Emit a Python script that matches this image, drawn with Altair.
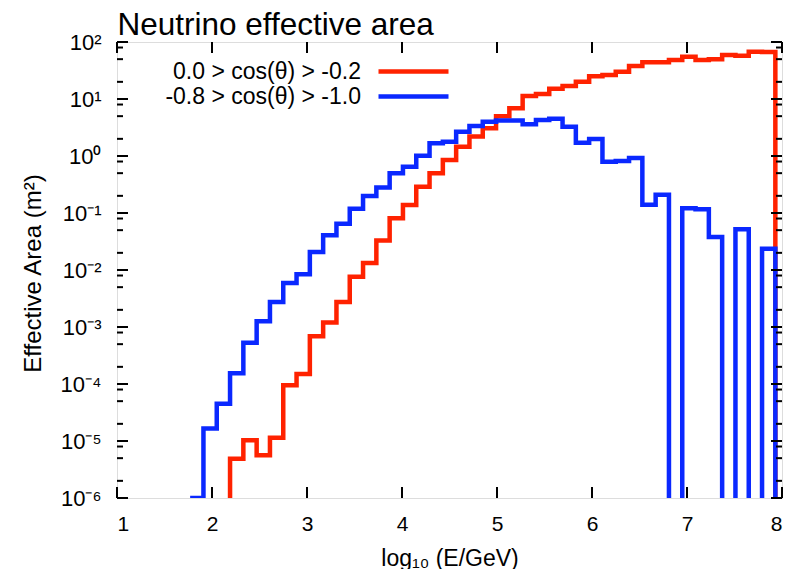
import altair as alt
import pandas as pd

FONT = "Liberation Sans"
RED_COLOR = "#ff2200"
BLUE_COLOR = "#0a28ff"

TITLE = "Neutrino effective area"
X_TITLE = "log\u2081\u2080 (E/GeV)"
Y_TITLE = "Effective Area (m\u00b2)"
SERIES_RED = "0.0 > cos(\u03b8) > -0.2"
SERIES_BLUE = "-0.8 > cos(\u03b8) > -1.0"

# left edge of each histogram step, log10(E/GeV)
BIN_X = [1.77, 1.91, 2.05, 2.19, 2.33, 2.47, 2.61, 2.75, 2.89, 3.03, 3.17,
         3.31, 3.45, 3.59, 3.73, 3.87, 4.01, 4.15, 4.29, 4.43, 4.57, 4.71,
         4.85, 4.99, 5.13, 5.27, 5.41, 5.55, 5.69, 5.83, 5.97, 6.11, 6.25,
         6.39, 6.53, 6.67, 6.81, 6.95, 7.09, 7.23, 7.37, 7.51, 7.65, 7.79,
         7.93]

EMPTY = 1e-9  # empty bin (below the axis range)

RED_VALUES = [EMPTY, EMPTY, EMPTY, 4.9e-6, 1.03e-5, 5.6e-6, 1.14e-5, 9.5e-5,
              1.5e-4, 6.9e-4, 1.2e-3, 2.75e-3, 7.6e-3, 0.0133, 0.033, 0.081,
              0.138, 0.29, 0.50, 0.85, 1.46, 2.19, 3.06, 5.0, 6.85, 11.3,
              12.2, 15.2, 16.9, 20.1, 25.0, 26.3, 30.2, 38.0, 44.0, 44.0,
              48.3, 55.0, 48.3, 49.7, 59.0, 57.6, 67.7, 66.8, EMPTY]

BLUE_VALUES = [1e-6, 1.65e-5, 4.5e-5, 1.55e-4, 5.3e-4, 1.26e-3, 2.75e-3,
               5.9e-3, 8.4e-3, 0.0207, 0.0406, 0.065, 0.119, 0.199, 0.28,
               0.50, 0.65, 1.01, 1.67, 1.78, 2.67, 3.36, 4.0, 4.2, 4.2, 3.6,
               4.3, 4.5, 3.27, 1.71, 1.98, 0.79, 0.82, 0.92, 0.14, 0.21,
               EMPTY, 0.121, 0.116, 0.038, EMPTY, 0.052, EMPTY, 0.0237, EMPTY]

X_TICKS = [1, 2, 3, 4, 5, 6, 7, 8]
Y_MAJOR = [1e-6, 1e-5, 1e-4, 1e-3, 1e-2, 1e-1, 1e0, 1e1, 1e2]
Y_TICK_LABELS = ["10\u207b\u2076", "10\u207b\u2075", "10\u207b\u2074",
                 "10\u207b\u00b3", "10\u207b\u00b2", "10\u207b\u00b9",
                 "10\u2070", "10\u00b9", "10\u00b2"]
Y_MINOR = [m * d for d in Y_MAJOR[:-1] for m in (2, 5, 8)]

W, H = 665, 456

df = pd.DataFrame({
    "x": BIN_X + BIN_X,
    "y": RED_VALUES + BLUE_VALUES,
    "series": [SERIES_RED] * len(BIN_X) + [SERIES_BLUE] * len(BIN_X),
})
xt_df = pd.DataFrame({"v": [float(v) for v in X_TICKS]})
ymaj_df = pd.DataFrame({"v": Y_MAJOR})
ymin_df = pd.DataFrame({"v": Y_MINOR})

# label expression built from the tick label list
expr = "''"
for v, lab in reversed(list(zip(Y_MAJOR, Y_TICK_LABELS))):
    expr = f"datum.value < {v * 3:.3g} ? '{lab}' : ({expr})"

xscale = alt.Scale(domain=[1, 8], nice=False, zero=False)
yscale = alt.Scale(type="log", domain=[1e-6, 1e2], nice=False)

color = alt.Color(
    "series:N",
    scale=alt.Scale(domain=[SERIES_RED, SERIES_BLUE], range=[RED_COLOR, BLUE_COLOR]),
    legend=alt.Legend(
        title=None, orient="none", legendX=285, legendY=18,
        symbolType="M-7,0H7", symbolSize=100, symbolStrokeWidth=4.5,
        labelFontSize=23, labelFont=FONT, labelColor="black",
        labelAlign="right", labelOffset={"expr": "-64"}, labelLimit=0,
        rowPadding=1, padding=0,
    ),
)

main_x = alt.X("x:Q", scale=xscale, axis=alt.Axis(
    orient="bottom", values=X_TICKS, ticks=False, domain=False, grid=False,
    labelFontSize=21, labelFont=FONT, labelColor="black", labelPadding=15,
    title=X_TITLE, titleFontSize=23, titleFont=FONT, titleFontWeight="normal",
    titleColor="black", titleY=67, titleBaseline="alphabetic"))
main_y = alt.Y("y:Q", scale=yscale, axis=alt.Axis(
    orient="left", values=Y_MAJOR, labelExpr=expr, ticks=False, domain=False,
    grid=False, labelFontSize=22, labelFont=FONT, labelColor="black",
    labelPadding=16, title=Y_TITLE, titleFontSize=24, titleFont=FONT,
    titleFontWeight="normal", titleColor="black", titleX=-77, titleY=231,
    titleAngle=270, titleAlign="center", titleBaseline="alphabetic"))

line_style = dict(interpolate="step-after", clip=True, strokeWidth=4.5,
                  strokeJoin="miter")

red = alt.Chart(df).transform_filter(
    alt.datum.series == SERIES_RED
).mark_line(**line_style).encode(x=main_x, y=main_y, color=color)

blue = alt.Chart(df).transform_filter(
    alt.datum.series == SERIES_BLUE
).mark_line(**line_style).encode(
    x=alt.X("x:Q", scale=xscale, axis=None),
    y=alt.Y("y:Q", scale=yscale, axis=None),
    color=color)

tick_style = dict(stroke="#000000", strokeWidth=2, opacity=1)

# inward-pointing tick marks on all four sides of the frame
top_title_axis = alt.Axis(
    orient="top", values=X_TICKS, labels=False, ticks=False, domain=False,
    grid=False, title=TITLE, titleFontSize=31.5, titleFont=FONT,
    titleFontWeight="normal", titleColor="black", titleX=0, titleY=-7.5,
    titleAlign="left", titleAngle=0, titleBaseline="alphabetic")

x_top = alt.Chart(xt_df).mark_rule(**tick_style).encode(
    x=alt.X("v:Q", scale=xscale, axis=top_title_axis),
    y=alt.value(0), y2=alt.value(11))
x_bot = alt.Chart(xt_df).mark_rule(**tick_style).encode(
    x=alt.X("v:Q", scale=xscale, axis=None),
    y=alt.value(H - 11), y2=alt.value(H))


def y_ticks(data, x0, x1):
    return alt.Chart(data).mark_rule(**tick_style).encode(
        y=alt.Y("v:Q", scale=yscale, axis=None),
        x=alt.value(x0), x2=alt.value(x1))


y_left_major = y_ticks(ymaj_df, 0, 11)
y_right_major = y_ticks(ymaj_df, W - 11, W)
y_left_minor = y_ticks(ymin_df, 0, 6)
y_right_minor = y_ticks(ymin_df, W - 6, W)

chart = alt.layer(
    red, blue,
    x_top, x_bot, y_left_major, y_right_major, y_left_minor, y_right_minor,
).resolve_axis(
    x="independent", y="independent"
).properties(
    width=W, height=H,
    padding={"left": 117, "top": 42, "right": 10, "bottom": 71},
    autosize=alt.AutoSizeParams(type="none"),
).configure_view(stroke="black", strokeWidth=2).configure(background="white")

chart.save("out.html", embed_options={"renderer": "svg", "actions": False})
